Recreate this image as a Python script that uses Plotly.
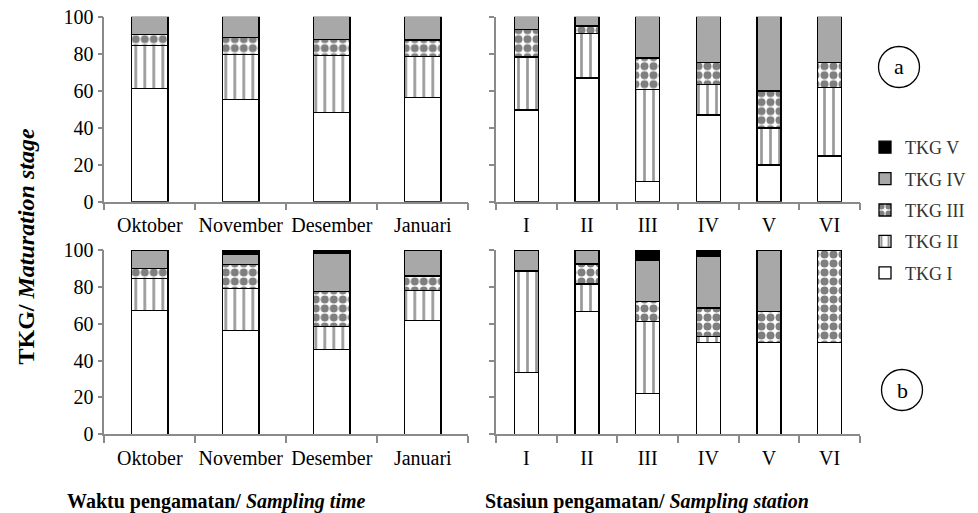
import plotly.graph_objects as go

months = ["Oktober", "November", "Desember", "Januari"]
stations = ["I", "II", "III", "IV", "V", "VI"]
stages = ["TKG I", "TKG II", "TKG III", "TKG IV", "TKG V"]

# Panel a (top) - by month
a_month = {
    "TKG I":   [61.3, 55.3, 48.3, 56.4],
    "TKG II":  [23.2, 24.3, 30.6, 22.2],
    "TKG III": [5.8, 9.2, 8.8, 8.8],
    "TKG IV":  [9.7, 11.2, 12.3, 12.6],
    "TKG V":   [None, None, None, None],
}
# Panel a (top) - by station
a_station = {
    "TKG I":   [49.6, 66.8, 11.0, 46.8, 19.9, 24.7],
    "TKG II":  [28.6, 24.0, 49.8, 16.7, 20.0, 37.2],
    "TKG III": [14.8, 4.1, 16.8, 11.6, 20.0, 13.2],
    "TKG IV":  [7.0, 5.1, 22.4, 24.9, 40.1, 24.9],
    "TKG V":   [None, None, None, None, None, None],
}
# Panel b (bottom) - by month
b_month = {
    "TKG I":   [67.3, 56.4, 46.1, 61.8],
    "TKG II":  [17.1, 22.6, 12.5, 16.3],
    "TKG III": [5.4, 13.2, 19.0, 7.8],
    "TKG IV":  [10.2, 5.3, 20.4, 14.1],
    "TKG V":   [None, 2.5, 2.0, None],
}
# Panel b (bottom) - by station
b_station = {
    "TKG I":   [33.5, 66.7, 22.2, 49.7, 49.7, 50.0],
    "TKG II":  [55.1, 14.9, 38.9, 3.3, None, None],
    "TKG III": [None, 10.8, 10.8, 15.6, 17.0, 50.0],
    "TKG IV":  [11.4, 7.6, 22.3, 28.0, 33.3, None],
    "TKG V":   [None, None, 5.8, 3.4, None, None],
}

legend_rank = {"TKG V": 1, "TKG IV": 2, "TKG III": 3, "TKG II": 4, "TKG I": 5}

styles = {
    "TKG I":   dict(color="white", pattern=dict(shape="")),
    "TKG II":  dict(color="white", pattern=dict(shape="|", fgcolor="#333333", bgcolor="white",
                                                   size=9, solidity=0.3, fillmode="overlay")),
    "TKG III": dict(color="white", pattern=dict(shape=".", fgcolor="black", bgcolor="white",
                                                    size=9, solidity=0.62, fillmode="overlay")),
    "TKG IV":  dict(color="#a8a8a8", pattern=dict(shape="")),
    "TKG V":   dict(color="black", pattern=dict(shape="")),
}

FONT = "Liberation Serif"
fig = go.Figure()

panels = [
    (a_month, months, "x", "y", True),
    (a_station, stations, "x2", "y2", False),
    (b_month, months, "x3", "y3", False),
    (b_station, stations, "x4", "y4", False),
]
for data, cats, xa, ya, show in panels:
    for s in stages:
        st = styles[s]
        fig.add_trace(go.Bar(
            x=cats, y=data[s], name=s, xaxis=xa, yaxis=ya,
            width=0.4, legendgroup=s, legendrank=legend_rank[s], showlegend=show,
            marker=dict(color=st["color"], pattern=st["pattern"],
                        line=dict(color="black", width=1.3)),
        ))

# page body has an 8px margin: figure is drawn 8px in from the top-left
OFF = 8
W, H = 978 - OFF, 513 - OFF
def px_x(p): return (p - OFF) / W
def px_y(p): return 1 - (p - OFF) / H

xl = [px_x(104.3), px_x(468.3)]
xr = [px_x(496), px_x(860)]
yt = [px_y(201.7), px_y(16.7)]
yb = [px_y(434.3), px_y(250)]

axis_common = dict(showline=True, linecolor="#8a8a8a", linewidth=1.5, ticks="outside",
                   tickcolor="#8a8a8a", tickwidth=1.5, showgrid=False, zeroline=False,
                   automargin=False, ticklabeloverflow="allow",
                   tickfont=dict(family=FONT, size=20, color="black"))
xcommon = dict(axis_common, type="category", tickson="boundaries", ticklen=7, tickangle=0,
               ticklabelstandoff=5)
ycommon = dict(axis_common, range=[0, 100], dtick=20, ticklen=5)

fig.update_layout(
    width=W, height=H,
    margin=dict(l=0, r=0, t=0, b=0, pad=0, autoexpand=False),
    plot_bgcolor="white", paper_bgcolor="white",
    barmode="stack", bargap=0.6,
    font=dict(family=FONT, color="black"),
    xaxis=dict(xcommon, domain=xl, anchor="y"),
    yaxis=dict(ycommon, domain=yt, anchor="x"),
    xaxis2=dict(xcommon, domain=xr, anchor="y2"),
    yaxis2=dict(ycommon, domain=yt, anchor="x2", showticklabels=False),
    xaxis3=dict(xcommon, domain=xl, anchor="y3"),
    yaxis3=dict(ycommon, domain=yb, anchor="x3"),
    xaxis4=dict(xcommon, domain=xr, anchor="y4"),
    yaxis4=dict(ycommon, domain=yb, anchor="x4", showticklabels=False),
    legend=dict(x=px_x(865), y=px_y(129), xanchor="left", yanchor="top",
                traceorder="grouped", tracegroupgap=5,
                font=dict(family=FONT, size=18, color="#333333"),
                bgcolor="rgba(0,0,0,0)"),
    showlegend=True,
)

# circle labels
for cx, cy, lab in [(899, 67, "a"), (902, 390, "b")]:
    r = 20.5
    fig.add_shape(type="circle", xref="paper", yref="paper",
                  x0=px_x(cx - r), x1=px_x(cx + r), y0=px_y(cy + r), y1=px_y(cy - r),
                  line=dict(color="black", width=1.3))
    fig.add_annotation(x=px_x(cx), y=px_y(cy), xref="paper", yref="paper", text=lab,
                       xanchor="center", yanchor="middle",
                       showarrow=False, font=dict(family=FONT, size=22, color="black"))

fig.add_annotation(x=px_x(25), y=px_y(246.5), xref="paper", yref="paper",
                   text="<b>TKG/ <i>Maturation stage</i></b>", textangle=-90,
                   xanchor="center", yanchor="middle",
                   showarrow=False, font=dict(family=FONT, size=24, color="black"))
fig.add_annotation(x=px_x(216), y=px_y(501), xref="paper", yref="paper",
                   text="<b>Waktu pengamatan/ <i>Sampling time</i></b>",
                   xanchor="center", yanchor="middle",
                   showarrow=False, font=dict(family=FONT, size=20, color="black"))
fig.add_annotation(x=px_x(647), y=px_y(501), xref="paper", yref="paper",
                   text="<b>Stasiun pengamatan/ <i>Sampling station</i></b>",
                   xanchor="center", yanchor="middle",
                   showarrow=False, font=dict(family=FONT, size=20, color="black"))

fig.write_html("out.html")
